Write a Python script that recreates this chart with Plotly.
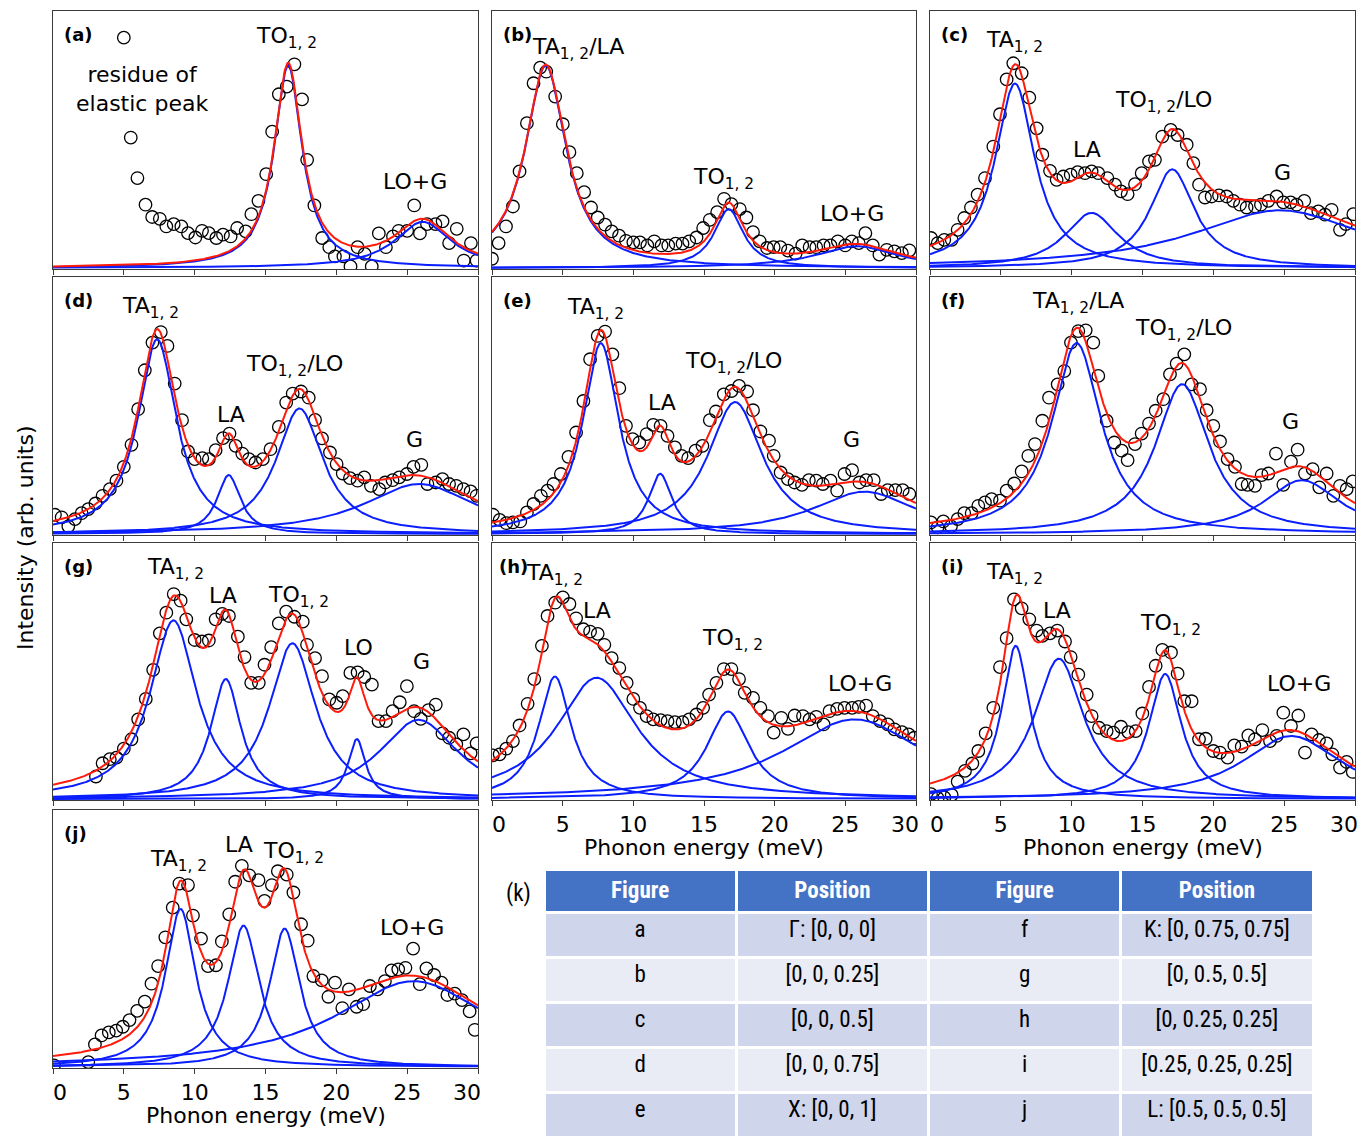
import numpy as np
import plotly.graph_objects as go

W, H = 1370, 1136

# ---------------- measured spectra (energy in meV, intensity in arb. units) ----------------
a_energy = [5.0, 5.49, 5.96, 6.53, 7.0, 7.54, 8.0, 8.52, 9.06, 9.53, 10.05, 10.52, 11.0, 11.53, 12.0, 12.54, 13.0, 13.6, 14.0, 14.5,
            15.05, 15.47, 15.94, 16.5, 17.04, 17.58, 17.94, 18.45, 19.0, 19.5, 19.9, 20.5, 21.0, 21.5, 22.0, 22.5, 23.0, 23.5, 24.0, 24.4,
            25.0, 25.5, 25.9, 26.4, 27.0, 27.5, 27.96, 28.5, 29.0, 29.5, 29.9]
a_counts = [0.899, 0.509, 0.351, 0.247, 0.199, 0.192, 0.162, 0.171, 0.162, 0.136, 0.119, 0.145, 0.136, 0.117, 0.130, 0.123, 0.156, 0.143, 0.210, 0.262,
            0.366, 0.532, 0.678, 0.708, 0.795, 0.658, 0.422, 0.244, 0.117, 0.081, 0.045, 0.045, 0.006, 0.081, 0.055, 0.006, 0.135, 0.081, 0.123, 0.145,
            0.145, 0.244, 0.135, 0.171, 0.171, 0.182, 0.097, 0.153, 0.029, 0.097, 0.029]

b_energy = [0.0, 0.47, 0.99, 1.48, 1.95, 2.47, 2.94, 3.41, 3.84, 4.47, 5.01, 5.48, 6.0, 6.52, 7.01, 7.48, 8.0, 8.47, 8.99, 9.48,
            10.0, 10.47, 10.99, 11.48, 12.0, 12.47, 12.99, 13.48, 13.95, 14.47, 14.94, 15.41, 15.93, 16.42, 16.94, 17.53, 18.0, 18.47, 18.94, 19.46,
            19.93, 20.4, 20.94, 21.48, 21.95, 22.47, 22.94, 23.46, 23.95, 24.47, 24.99, 25.46, 25.95, 26.42, 26.94, 27.41, 27.93, 28.47, 29.0, 29.53]
b_counts = [0.036, 0.097, 0.162, 0.240, 0.377, 0.565, 0.721, 0.782, 0.766, 0.669, 0.561, 0.452, 0.370, 0.296, 0.236, 0.197, 0.169, 0.143, 0.126, 0.106,
            0.100, 0.100, 0.088, 0.104, 0.088, 0.088, 0.095, 0.095, 0.104, 0.119, 0.156, 0.188, 0.218, 0.270, 0.249, 0.230, 0.197, 0.140, 0.104, 0.078,
            0.081, 0.081, 0.068, 0.056, 0.088, 0.081, 0.081, 0.088, 0.088, 0.104, 0.088, 0.104, 0.097, 0.136, 0.088, 0.052, 0.071, 0.065, 0.058, 0.069]

c_energy = [0.07, 0.54, 1.01, 1.53, 1.95, 2.42, 2.89, 3.36, 3.88, 4.47, 4.94, 5.41, 5.88, 6.47, 7.01, 7.53, 7.93, 8.47, 8.94, 9.41,
            9.93, 10.42, 10.94, 11.41, 11.88, 12.52, 13.06, 13.48, 13.95, 14.47, 14.94, 15.46, 15.88, 16.4, 16.99, 17.48, 18.12, 18.59, 18.99, 19.41,
            19.88, 20.4, 20.94, 21.41, 21.88, 22.35, 22.94, 23.36, 23.88, 24.47, 24.94, 25.46, 25.88, 26.42, 26.89, 27.41, 27.88, 28.35, 28.94, 29.36, 29.88]
c_counts = [0.117, 0.097, 0.110, 0.110, 0.149, 0.195, 0.236, 0.286, 0.351, 0.474, 0.600, 0.736, 0.799, 0.760, 0.665, 0.545, 0.442, 0.379, 0.344, 0.357,
            0.364, 0.374, 0.370, 0.377, 0.370, 0.351, 0.325, 0.299, 0.288, 0.327, 0.370, 0.416, 0.422, 0.513, 0.539, 0.519, 0.481, 0.409, 0.325, 0.275,
            0.279, 0.283, 0.279, 0.262, 0.247, 0.236, 0.240, 0.247, 0.262, 0.279, 0.256, 0.256, 0.247, 0.262, 0.214, 0.221, 0.208, 0.227, 0.149, 0.171, 0.210]

d_energy = [0.14, 0.61, 1.08, 1.55, 2.02, 2.49, 3.0, 3.5, 4.01, 4.48, 5.0, 5.54, 6.01, 6.48, 7.02, 7.61, 8.08, 8.59, 9.11, 9.53,
            10.0, 10.54, 11.0, 11.48, 12.0, 12.46, 12.89, 13.36, 13.83, 14.3, 14.81, 15.35, 15.94, 16.46, 16.92, 17.51, 18.05, 18.5, 18.99, 19.55,
            20.02, 20.45, 20.96, 21.5, 21.97, 22.44, 23.03, 23.45, 23.97, 24.44, 24.98, 25.45, 26.0, 26.43, 27.02, 27.49, 27.96, 28.47, 28.97, 29.48, 29.9]
d_counts = [0.075, 0.065, 0.030, 0.058, 0.081, 0.097, 0.119, 0.149, 0.175, 0.208, 0.262, 0.348, 0.487, 0.639, 0.747, 0.788, 0.734, 0.587, 0.444, 0.322,
            0.292, 0.296, 0.292, 0.327, 0.374, 0.392, 0.344, 0.314, 0.292, 0.279, 0.292, 0.331, 0.418, 0.513, 0.548, 0.556, 0.532, 0.445, 0.373, 0.318,
            0.273, 0.236, 0.218, 0.208, 0.221, 0.188, 0.175, 0.201, 0.210, 0.221, 0.234, 0.262, 0.270, 0.195, 0.201, 0.214, 0.195, 0.188, 0.175, 0.166, 0.149]

e_energy = [0.07, 0.54, 1.01, 1.48, 2.0, 2.47, 2.94, 3.46, 3.93, 4.35, 4.87, 5.41, 5.95, 6.47, 6.94, 7.48, 8.0, 8.52, 9.01, 9.48,
            9.95, 10.42, 10.94, 11.41, 11.93, 12.42, 12.94, 13.41, 13.88, 14.4, 14.89, 15.41, 15.84, 16.4, 16.94, 17.48, 18.05, 18.47, 18.99, 19.6,
            19.93, 20.42, 20.94, 21.41, 21.93, 22.42, 22.94, 23.41, 23.95, 24.42, 24.94, 25.48, 26.0, 26.47, 27.01, 27.53, 28.0, 28.54, 29.06, 29.53]
e_counts = [0.075, 0.055, 0.042, 0.045, 0.049, 0.084, 0.117, 0.149, 0.169, 0.195, 0.234, 0.301, 0.396, 0.519, 0.682, 0.773, 0.790, 0.701, 0.569, 0.422,
            0.370, 0.357, 0.390, 0.426, 0.422, 0.383, 0.338, 0.305, 0.296, 0.325, 0.344, 0.444, 0.478, 0.545, 0.558, 0.578, 0.556, 0.483, 0.400, 0.364,
            0.305, 0.240, 0.214, 0.201, 0.192, 0.210, 0.208, 0.195, 0.208, 0.169, 0.234, 0.249, 0.201, 0.210, 0.210, 0.156, 0.171, 0.171, 0.171, 0.156]

f_energy = [0.07, 0.54, 0.94, 1.48, 1.95, 2.42, 2.94, 3.41, 3.88, 4.35, 4.94, 5.41, 5.95, 6.47, 6.94, 7.41, 7.93, 8.4, 9.01, 9.48,
            9.95, 10.47, 10.99, 11.53, 11.88, 12.47, 13.01, 13.53, 13.95, 14.47, 14.94, 15.46, 15.93, 16.47, 16.94, 17.41, 17.95, 18.47, 19.06, 19.53,
            20.0, 20.47, 21.01, 21.53, 22.0, 22.42, 22.94, 23.41, 23.88, 24.42, 24.94, 25.48, 25.95, 26.47, 27.01, 27.48, 28.0, 28.47, 28.94, 29.41, 29.84]
f_counts = [0.045, 0.026, 0.049, 0.030, 0.058, 0.081, 0.081, 0.110, 0.123, 0.136, 0.130, 0.169, 0.197, 0.244, 0.305, 0.351, 0.442, 0.532, 0.584, 0.636,
            0.747, 0.792, 0.795, 0.747, 0.617, 0.442, 0.357, 0.325, 0.288, 0.351, 0.392, 0.431, 0.481, 0.526, 0.623, 0.665, 0.701, 0.584, 0.565, 0.483,
            0.422, 0.361, 0.292, 0.262, 0.195, 0.192, 0.188, 0.230, 0.236, 0.314, 0.192, 0.282, 0.329, 0.236, 0.253, 0.182, 0.236, 0.149, 0.188, 0.175, 0.205]

g_energy = [3.03, 3.5, 4.01, 4.48, 5.0, 5.54, 6.01, 6.55, 7.07, 7.54, 8.0, 8.52, 9.01, 9.41, 10.0, 10.52, 11.0, 11.48, 11.95, 12.42,
            13.05, 13.52, 13.99, 14.53, 14.93, 15.4, 15.94, 16.46, 17.04, 17.63, 17.93, 18.5, 18.99, 19.5, 20.02, 20.45, 20.99, 21.5, 21.97, 22.51,
            22.98, 23.5, 23.97, 24.48, 24.98, 25.49, 25.96, 26.5, 27.02, 27.49, 27.96, 28.47, 28.97, 29.48, 29.9]
g_counts = [0.088, 0.140, 0.156, 0.162, 0.197, 0.234, 0.312, 0.392, 0.506, 0.649, 0.730, 0.803, 0.777, 0.704, 0.623, 0.617, 0.621, 0.704, 0.725, 0.717,
            0.636, 0.556, 0.455, 0.455, 0.526, 0.595, 0.688, 0.734, 0.714, 0.695, 0.604, 0.552, 0.481, 0.390, 0.377, 0.403, 0.494, 0.496, 0.478, 0.448,
            0.305, 0.305, 0.344, 0.379, 0.442, 0.344, 0.314, 0.348, 0.370, 0.257, 0.240, 0.214, 0.253, 0.179, 0.218]

h_energy = [0.07, 0.54, 1.01, 1.48, 1.95, 2.52, 2.99, 3.53, 3.93, 4.47, 5.01, 5.48, 5.95, 6.47, 6.94, 7.48, 7.95, 8.47, 9.01, 9.53,
            10.0, 10.47, 10.94, 11.41, 11.93, 12.42, 12.94, 13.48, 13.95, 14.47, 14.94, 15.36, 15.88, 16.4, 16.94, 17.48, 17.88, 18.47, 18.99, 19.53,
            19.93, 20.47, 20.94, 21.41, 22.0, 22.47, 22.94, 23.46, 23.88, 24.42, 24.94, 25.48, 25.95, 26.47, 26.94, 27.46, 28.0, 28.47, 29.01, 29.48, 29.88]
h_counts = [0.171, 0.175, 0.197, 0.227, 0.288, 0.373, 0.470, 0.600, 0.717, 0.769, 0.790, 0.764, 0.708, 0.665, 0.656, 0.647, 0.604, 0.552, 0.513, 0.455,
            0.392, 0.357, 0.325, 0.312, 0.309, 0.305, 0.301, 0.301, 0.312, 0.331, 0.357, 0.409, 0.455, 0.509, 0.509, 0.470, 0.416, 0.396, 0.357, 0.325,
            0.260, 0.318, 0.275, 0.327, 0.325, 0.312, 0.322, 0.292, 0.344, 0.353, 0.357, 0.357, 0.361, 0.366, 0.325, 0.305, 0.292, 0.273, 0.262, 0.253, 0.240]

i_energy = [0.07, 0.54, 1.01, 1.53, 1.95, 2.47, 2.99, 3.41, 3.93, 4.47, 4.94, 5.41, 5.93, 6.47, 7.01, 7.53, 7.93, 8.47, 8.99, 9.53,
            9.93, 10.47, 11.06, 11.41, 11.93, 12.47, 12.94, 13.48, 14.0, 14.52, 14.99, 15.46, 15.93, 16.4, 17.01, 17.48, 17.95, 18.47, 18.99, 19.46,
            20.0, 20.47, 21.01, 21.48, 22.0, 22.47, 22.94, 23.46, 24.0, 24.47, 24.94, 25.48, 26.0, 26.47, 26.94, 27.46, 28.0, 28.4, 28.94, 29.41, 29.84]
i_counts = [0.019, 0.003, 0.006, 0.016, 0.068, 0.110, 0.139, 0.188, 0.257, 0.357, 0.517, 0.630, 0.782, 0.747, 0.704, 0.660, 0.639, 0.649, 0.660, 0.617,
            0.556, 0.487, 0.409, 0.325, 0.279, 0.266, 0.260, 0.283, 0.262, 0.266, 0.335, 0.439, 0.522, 0.584, 0.574, 0.491, 0.383, 0.383, 0.234, 0.236,
            0.188, 0.182, 0.162, 0.210, 0.205, 0.249, 0.234, 0.270, 0.227, 0.247, 0.338, 0.286, 0.327, 0.182, 0.253, 0.231, 0.218, 0.175, 0.123, 0.145, 0.106]

j_energy = [0.07, 2.49, 2.96, 3.43, 3.94, 4.46, 4.93, 5.4, 5.94, 6.48, 6.95, 7.42, 7.93, 8.45, 8.92, 9.53, 9.88, 10.45, 10.94, 11.5,
            11.92, 12.44, 12.86, 13.33, 13.85, 14.51, 14.93, 15.45, 15.87, 16.5, 16.97, 17.51, 17.98, 18.38, 18.97, 19.44, 19.91, 20.42, 20.89, 21.43,
            21.9, 22.37, 22.91, 23.43, 23.9, 24.37, 24.88, 25.42, 25.89, 26.36, 26.9, 27.42, 27.84, 28.36, 28.87, 29.41, 29.77]
j_counts = [0.006, 0.019, 0.088, 0.123, 0.135, 0.142, 0.157, 0.183, 0.219, 0.255, 0.325, 0.394, 0.506, 0.622, 0.716, 0.710, 0.591, 0.501, 0.394, 0.397,
            0.490, 0.596, 0.723, 0.785, 0.748, 0.729, 0.648, 0.710, 0.764, 0.751, 0.681, 0.557, 0.493, 0.355, 0.338, 0.274, 0.329, 0.230, 0.303, 0.235,
            0.245, 0.316, 0.303, 0.335, 0.377, 0.381, 0.387, 0.462, 0.323, 0.385, 0.359, 0.329, 0.281, 0.286, 0.261, 0.217, 0.145]

# ---------------- fitted Lorentzian components: centre (meV), height, half width ----------------
a_center = [16.6, 26.1];               a_height = [0.79, 0.18];                 a_hwhm = [1.2, 2.4]
b_center = [3.8, 16.75, 25.8];         b_height = [0.79, 0.23, 0.085];          b_hwhm = [1.75, 1.25, 3.5]
c_center = [6.0, 11.4, 17.1, 24.7];    c_height = [0.72, 0.215, 0.385, 0.225];  c_hwhm = [1.7, 2.3, 1.9, 7.5]
d_center = [7.35, 12.4, 17.4, 25.85];  d_height = [0.76, 0.23, 0.49, 0.195];    d_hwhm = [1.65, 1.0, 2.0, 4.8]
e_center = [7.7, 11.9, 17.2, 26.35];   e_height = [0.745, 0.235, 0.515, 0.165]; e_hwhm = [1.55, 1.0, 2.35, 4.5]
f_center = [10.35, 17.8, 26.25];       f_height = [0.745, 0.585, 0.21];         f_hwhm = [2.1, 2.3, 3.3]
g_center = [8.5, 12.2, 16.9, 21.45, 25.8]; g_height = [0.70, 0.47, 0.61, 0.235, 0.31]; g_hwhm = [2.0, 1.3, 2.0, 0.75, 3.4]
h_center = [4.45, 7.4, 16.7, 25.65];   h_height = [0.48, 0.475, 0.343, 0.312];  h_hwhm = [1.4, 3.45, 1.85, 6.2]
i_center = [6.05, 9.1, 16.6, 25.5];    i_height = [0.60, 0.55, 0.49, 0.247];    i_hwhm = [1.2, 2.1, 1.4, 4.2]
j_center = [9.0, 13.45, 16.35, 25.45]; j_height = [0.617, 0.552, 0.54, 0.335];  j_hwhm = [1.3, 1.35, 1.3, 6.7]

# ---------------- peak labels ----------------
a_labels = [("TO<sub>1, 2</sub>", 16.46, 0.899), ("LO+G", 25.54, 0.338), ("residue of<br>elastic peak", 6.29, 0.697)]
b_labels = [("TA<sub>1, 2</sub>/LA", 6.05, 0.857), ("TO<sub>1, 2</sub>", 16.4, 0.348), ("LO+G", 25.46, 0.214)]
c_labels = [("TA<sub>1, 2</sub>", 5.93, 0.883), ("LA", 11.06, 0.461), ("TO<sub>1, 2</sub>/LO", 16.45, 0.649), ("G", 24.87, 0.373)]
d_labels = [("TA<sub>1, 2</sub>", 6.88, 0.883), ("LA", 12.58, 0.468), ("TO<sub>1, 2</sub>/LO", 17.04, 0.656), ("G", 25.54, 0.368)]
e_labels = [("TA<sub>1, 2</sub>", 7.34, 0.881), ("LA", 12.0, 0.513), ("TO<sub>1, 2</sub>/LO", 17.08, 0.669), ("G", 25.46, 0.368)]
f_labels = [("TA<sub>1, 2</sub>/LA", 10.47, 0.903), ("TO<sub>1, 2</sub>/LO", 17.88, 0.799), ("G", 25.46, 0.439)]
g_labels = [("TA<sub>1, 2</sub>", 8.64, 0.903), ("LA", 12.0, 0.799), ("TO<sub>1, 2</sub>", 17.32, 0.792), ("LO", 21.55, 0.595), ("G", 26.0, 0.539)]
h_labels = [("TA<sub>1, 2</sub>", 4.4, 0.881), ("LA", 7.41, 0.740), ("TO<sub>1, 2</sub>", 16.99, 0.623), ("LO+G", 26.05, 0.452)]
i_labels = [("TA<sub>1, 2</sub>", 5.93, 0.883), ("LA", 8.94, 0.740), ("TO<sub>1, 2</sub>", 16.99, 0.682), ("LO+G", 26.05, 0.452)]
j_labels = [("TA<sub>1, 2</sub>", 8.87, 0.806), ("LA", 13.1, 0.868), ("TO<sub>1, 2</sub>", 17.0, 0.836), ("LO+G", 25.35, 0.546)]

panel_tags = ["(a)", "(b)", "(c)", "(d)", "(e)", "(f)", "(g)", "(h)", "(i)", "(j)"]
tick_values = [0, 5, 10, 15, 20, 25, 30]
tick_text = ["", "5", "10", "15", "20", "25", ""]       # end labels drawn on their own (nudged inward, as in the original)
end_ticks = [(0, "0", 7), (30, "30", -11)]              # value, label, pixel nudge along the axis
x_title = "Phonon energy (meV)"
y_title = "Intensity (arb. units)"

# ---------------- table (k) ----------------
table_header = ["Figure", "Position", "Figure", "Position"]
fig_left = ["a", "b", "c", "d", "e"]
pos_left = ["Γ: [0, 0, 0]", "[0, 0, 0.25]", "[0, 0, 0.5]", "[0, 0, 0.75]", "X: [0, 0, 1]"]
fig_right = ["f", "g", "h", "i", "j"]
pos_right = ["K: [0, 0.75, 0.75]", "[0, 0.5, 0.5]", "[0, 0.25, 0.25]", "[0.25, 0.25, 0.25]", "L: [0.5, 0.5, 0.5]"]

# ---------------- assemble ----------------
panels = [
    (a_energy, a_counts, a_center, a_height, a_hwhm, a_labels),
    (b_energy, b_counts, b_center, b_height, b_hwhm, b_labels),
    (c_energy, c_counts, c_center, c_height, c_hwhm, c_labels),
    (d_energy, d_counts, d_center, d_height, d_hwhm, d_labels),
    (e_energy, e_counts, e_center, e_height, e_hwhm, e_labels),
    (f_energy, f_counts, f_center, f_height, f_hwhm, f_labels),
    (g_energy, g_counts, g_center, g_height, g_hwhm, g_labels),
    (h_energy, h_counts, h_center, h_height, h_hwhm, h_labels),
    (i_energy, i_counts, i_center, i_height, i_hwhm, i_labels),
    (j_energy, j_counts, j_center, j_height, j_hwhm, j_labels),
]

col_px = [(53, 478), (492, 916), (930, 1355)]
row_px = [(11, 269), (277, 535), (543, 800), (810, 1068)]
grid_pos = [(0, 0), (0, 1), (0, 2), (1, 0), (1, 1), (1, 2), (2, 0), (2, 1), (2, 2), (3, 0)]
labelled = [7, 8, 9]

FONT = "DejaVu Sans, Verdana, sans-serif"
TFONT = "Liberation Sans Narrow, Arial Narrow, Roboto Condensed, Lato, sans-serif"
FRAME = "#3a3a3a"

fig = go.Figure()
layout = {}
annotations = []
grid = np.linspace(0, 30, 901)


def lorentz(x, c, a, w):
    return a * w ** 2 / ((x - c) ** 2 + w ** 2)


for k, (ex, cy, cen, hgt, hw, labs) in enumerate(panels):
    idx = k + 1
    xa = "x" if idx == 1 else f"x{idx}"
    ya = "y" if idx == 1 else f"y{idx}"
    r, c = grid_pos[k]
    x0, x1 = col_px[c]
    y0, y1 = row_px[r]

    fig.add_trace(go.Scatter(x=ex, y=cy, mode="markers", xaxis=xa, yaxis=ya, showlegend=False,
                             marker=dict(symbol="circle-open", size=12.5, color="black", line=dict(width=1.3, color="black")),
                             hoverinfo="skip"))
    total = np.zeros_like(grid)
    for cc, aa, ww in zip(cen, hgt, hw):
        comp = lorentz(grid, cc, aa, ww)
        total += comp
        fig.add_trace(go.Scatter(x=grid, y=comp, mode="lines", xaxis=xa, yaxis=ya, showlegend=False,
                                 line=dict(color="#0a1eff", width=2), hoverinfo="skip"))
    fig.add_trace(go.Scatter(x=grid, y=total, mode="lines", xaxis=xa, yaxis=ya, showlegend=False,
                             line=dict(color="#ff1a0a", width=2), hoverinfo="skip"))

    xkey = "xaxis" if idx == 1 else f"xaxis{idx}"
    ykey = "yaxis" if idx == 1 else f"yaxis{idx}"
    layout[xkey] = dict(domain=[x0 / W, x1 / W], anchor=ya, range=[0, 30], automargin=False,
                        tickvals=tick_values, ticktext=tick_text, ticks="outside", ticklen=5, tickwidth=1, tickcolor=FRAME,
                        showticklabels=(k in labelled), tickfont=dict(family=FONT, size=22, color="black"),
                        showline=True, linecolor=FRAME, linewidth=1, mirror=True,
                        showgrid=False, zeroline=False, fixedrange=True)
    layout[ykey] = dict(domain=[1 - y1 / H, 1 - y0 / H], anchor=xa, range=[-0.004, 1.003], automargin=False,
                        showticklabels=False, ticks="", showline=True, linecolor=FRAME, linewidth=1, mirror=True,
                        showgrid=False, zeroline=False, fixedrange=True)

    for txt, lx, ly in labs:
        annotations.append(dict(text=txt, x=lx, y=ly, xref=xa, yref=ya, showarrow=False,
                                xanchor="center", yanchor="middle",
                                font=dict(family=FONT, size=22, color="black")))
    annotations.append(dict(text=f"<b>{panel_tags[k]}</b>", x=(0.012 if k == 7 else 0.022), y=0.908,
                            xref=f"{xa} domain", yref=f"{ya} domain", showarrow=False,
                            xanchor="left", yanchor="middle", font=dict(family=FONT, size=18, color="black")))
    if k in labelled:
        annotations.append(dict(text=x_title, x=(x0 + x1) / 2 / W, y=1 - (y1 + 47) / H, xref="paper", yref="paper",
                                showarrow=False, xanchor="center", yanchor="middle",
                                font=dict(family=FONT, size=22, color="black")))

# extra overlaying axes carrying the two end tick labels, nudged inward like the original figure
extra = 11
for k in labelled:
    idx = k + 1
    xa = f"x{idx}"
    ya = f"y{idx}"
    r, c = grid_pos[k]
    x0, x1 = col_px[c]
    for val, txt, shift in end_ticks:
        ax_name = f"x{extra}"
        layout[f"xaxis{extra}"] = dict(domain=[x0 / W, x1 / W], anchor=ya, overlaying=xa, side="bottom",
                                       range=[0, 30], automargin=False, tickvals=[val], ticktext=[txt],
                                       ticks="outside", ticklen=5, tickcolor="rgba(0,0,0,0)", ticklabelshift=shift,
                                       ticklabeloverflow="allow",
                                       tickfont=dict(family=FONT, size=22, color="black"),
                                       showline=False, showgrid=False, zeroline=False, fixedrange=True)
        fig.add_trace(go.Scatter(x=[], y=[], xaxis=ax_name, yaxis=ya, mode="markers",
                                 showlegend=False, hoverinfo="skip"))
        extra += 1

annotations.append(dict(text=y_title, x=25 / W, y=1 - 538 / H, xref="paper", yref="paper", textangle=-90,
                        showarrow=False, xanchor="center", yanchor="middle",
                        font=dict(family=FONT, size=22, color="black")))
annotations.append(dict(text="(k)", x=518 / W, y=1 - 893 / H, xref="paper", yref="paper",
                        showarrow=False, xanchor="center", yanchor="middle",
                        font=dict(family=TFONT, size=23, color="black")))

row_fill = ["#cfd5ea", "#e9ebf5", "#cfd5ea", "#e9ebf5", "#cfd5ea"]
fig.add_trace(go.Table(
    domain=dict(x=[544 / W, 1313 / W], y=[0, 1 - 869 / H]),
    columnwidth=[1, 1, 1, 1],
    header=dict(values=[f"<b>{h}</b>" for h in table_header], fill_color="#4472c4", align="center",
                line=dict(color="white", width=3), height=40,
                font=dict(family=TFONT, size=23, color="white")),
    cells=dict(values=[fig_left, pos_left, fig_right, pos_right], fill_color=[row_fill] * 4, align="center",
               line=dict(color="white", width=3), height=45,
               font=dict(family=TFONT, size=23, color="black")),
))

fig.update_layout(width=W, height=H, margin=dict(l=0, r=0, t=0, b=0, autoexpand=False),
                  paper_bgcolor="white", plot_bgcolor="white",
                  annotations=annotations, showlegend=False, **layout)

fig.write_html("out.html", config={"displayModeBar": False},
               post_script="document.body.style.margin='0px';document.body.style.overflow='hidden';")
